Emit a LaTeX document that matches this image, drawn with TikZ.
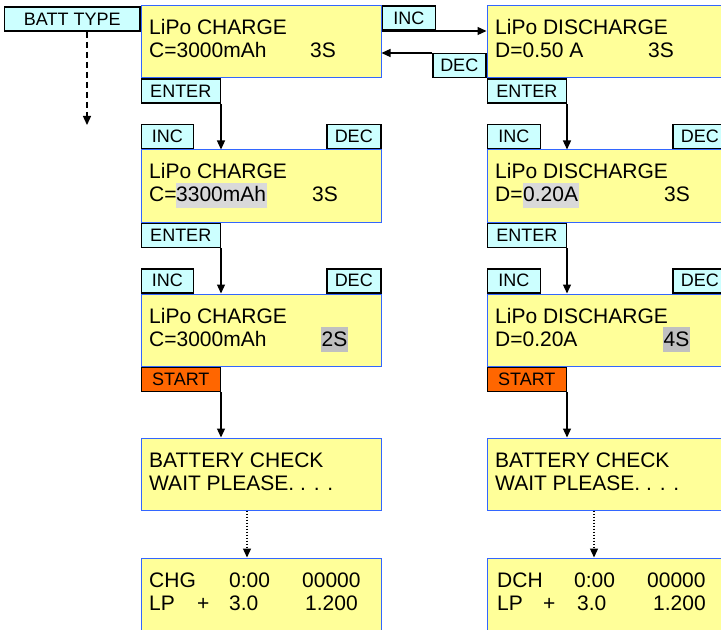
\documentclass[tikz,border=0pt]{standalone}
\usepackage{fontspec}
\setmainfont{Liberation Sans}
\usepackage{xcolor}
\usetikzlibrary{shapes,positioning,arrows.meta}
\definecolor{lcdfill}{RGB}{255,255,153}
\definecolor{lcdline}{RGB}{51,102,255}
\definecolor{keyfill}{RGB}{204,255,255}
\definecolor{gokey}{RGB}{255,102,0}
\definecolor{hlA}{RGB}{217,217,217}
\definecolor{hlB}{RGB}{192,192,192}
\tikzset{lcd/.style={rectangle,draw=lcdline,fill=lcdfill,line width=1bp,minimum width=240bp,minimum height=72bp,inner sep=0}}
\tikzset{key/.style={rectangle,draw,fill=keyfill,line width=1.5bp,minimum height=24bp,inner sep=0,font=\fontsize{18bp}{20bp}\selectfont}}
\tikzset{txt/.style={anchor=base west,inner sep=0,font=\fontsize{21bp}{24bp}\selectfont}}
\tikzset{hl/.style={txt,inner xsep=0.5bp,text height=19bp,text depth=6bp}}
\tikzset{wire/.style={line width=1.3bp}}

\begin{document}
\begin{tikzpicture}[>={Stealth[length=9bp,width=8bp,inset=0pt]},x=1bp,y=-1bp]
    \useasboundingbox (0,0) rectangle (721,630);
    % charge column
    \node[lcd] (chg1)at (261,42) {};
    \node[lcd] (chg2)at (261,186) {};
    \node[lcd] (chg3)at (261,330) {};
    \node[lcd] (chk1)at (261,474) {};
    \node[lcd] (run1)at (261,594) {};
    % discharge column
    \node[lcd] (dis1)at (607,42) {};
    \node[lcd] (dis2)at (607,186) {};
    \node[lcd] (dis3)at (607,330) {};
    \node[lcd] (chk2)at (607,474) {};
    \node[lcd] (run2)at (607,594) {};

    % keys
    \node[key,minimum width=135bp,anchor=north east] (batt)at ([yshift=-1bp]chg1.north west) {BATT TYPE};
    \node[key,minimum width=53bp,anchor=north west] (inc0)at (chg1.north east) {INC};
    \node[key,minimum width=53bp,anchor=south east] (dec0)at (dis1.south west) {DEC};
    \node[key,minimum width=79bp,anchor=north west] (ent1)at (chg1.south west) {ENTER};
    \node[key,minimum width=52bp,anchor=south west] (inc1)at (chg2.north west) {INC};
    \node[key,minimum width=54bp,anchor=south east] (dec1)at (chg2.north east) {DEC};
    \node[key,minimum width=79bp,anchor=north west] (ent2)at (chg2.south west) {ENTER};
    \node[key,minimum width=52bp,anchor=south west] (inc2)at (chg3.north west) {INC};
    \node[key,minimum width=54bp,anchor=south east] (dec2)at (chg3.north east) {DEC};
    \node[key,fill=gokey,minimum width=79bp,anchor=north west] (go1)at (chg3.south west) {START};
    \node[key,minimum width=79bp,anchor=north west] (ent3)at (dis1.south west) {ENTER};
    \node[key,minimum width=53bp,anchor=south west] (inc3)at (dis2.north west) {INC};
    \node[key,minimum width=54bp,anchor=south east] (dec3)at (dis2.north east) {DEC};
    \node[key,minimum width=79bp,anchor=north west] (ent4)at (dis2.south west) {ENTER};
    \node[key,minimum width=53bp,anchor=south west] (inc4)at (dis3.north west) {INC};
    \node[key,minimum width=54bp,anchor=south east] (dec4)at (dis3.north east) {DEC};
    \node[key,fill=gokey,minimum width=79bp,anchor=north west] (go2)at (dis3.south west) {START};

    % display texts
    \node[txt] (c1a)at (149,35) {LiPo CHARGE};
    \node[txt] (c1b)at (149,58) {C=3000mAh};
    \node[txt] (c1c)at (310,58) {3S};
    \node[txt] (c2a)at (149,179) {LiPo CHARGE};
    \node[txt] (c2b)at (149,202) {C=};
    \node[hl,fill=hlA] (c2c)at (175.5,202) {3300mAh};
    \node[txt] (c2d)at (312,202) {3S};
    \node[txt] (c3a)at (149,323) {LiPo CHARGE};
    \node[txt] (c3b)at (149,346) {C=3000mAh};
    \node[hl,fill=hlB] (c3c)at (321,346) {2S};
    \node[txt] (k1a)at (149,467) {BATTERY CHECK};
    \node[txt] (k1b)at (149,490) {WAIT PLEASE. . . .};
    \node[txt] (r1a)at (149,587) {CHG};
    \node[txt] (r1b)at (229,587) {0:00};
    \node[txt] (r1c)at (302,587) {00000};
    \node[txt] (r1d)at (149,610) {LP};
    \node[txt] (r1e)at (197,610) {+};
    \node[txt] (r1f)at (229,610) {3.0};
    \node[txt] (r1g)at (305,610) {1.200};

    \node[txt] (d1a)at (495,35) {LiPo DISCHARGE};
    \node[txt] (d1b)at (495,58) {D=0.50 A};
    \node[txt] (d1c)at (648,58) {3S};
    \node[txt] (d2a)at (495,179) {LiPo DISCHARGE};
    \node[txt] (d2b)at (495,202) {D=};
    \node[hl,fill=hlA] (d2c)at (522.5,202) {0.20A};
    \node[txt] (d2d)at (664,202) {3S};
    \node[txt] (d3a)at (495,323) {LiPo DISCHARGE};
    \node[txt] (d3b)at (495,346) {D=0.20A};
    \node[hl,fill=hlB] (d3c)at (663,346) {4S};
    \node[txt] (k2a)at (495,467) {BATTERY CHECK};
    \node[txt] (k2b)at (495,490) {WAIT PLEASE. . . .};
    \node[txt] (r2a)at (497,587) {DCH};
    \node[txt] (r2b)at (574,587) {0:00};
    \node[txt] (r2c)at (647,587) {00000};
    \node[txt] (r2d)at (497,610) {LP};
    \node[txt] (r2e)at (543,610) {+};
    \node[txt] (r2f)at (577,610) {3.0};
    \node[txt] (r2g)at (653,610) {1.200};

    % connectors
    \coordinate (more)at (87,125);
    \draw [wire,dash pattern=on 6bp off 4bp,->] (batt.south -| more) to (more);
    \draw [wire,->] (inc0.south west) to (inc0.south west -| dis1.west);
    \draw [wire,->] (dec0.north west) to (dec0.north west -| chg1.east);
    \draw [wire,->] (ent1.south east) to (ent1.south east |- chg2.north);
    \draw [wire,->] (ent2.south east) to (ent2.south east |- chg3.north);
    \draw [wire,->] (go1.south east) to (go1.south east |- chk1.north);
    \draw [wire,dash pattern=on 1.5bp off 1.5bp,->] ([xshift=-14bp]chk1.south) to ([xshift=-14bp]run1.north);
    \draw [wire,->] (ent3.south east) to (ent3.south east |- dis2.north);
    \draw [wire,->] (ent4.south east) to (ent4.south east |- dis3.north);
    \draw [wire,->] (go2.south east) to (go2.south east |- chk2.north);
    \draw [wire,dash pattern=on 1.5bp off 1.5bp,->] ([xshift=-13bp]chk2.south) to ([xshift=-13bp]run2.north);
\end{tikzpicture}
\end{document}
